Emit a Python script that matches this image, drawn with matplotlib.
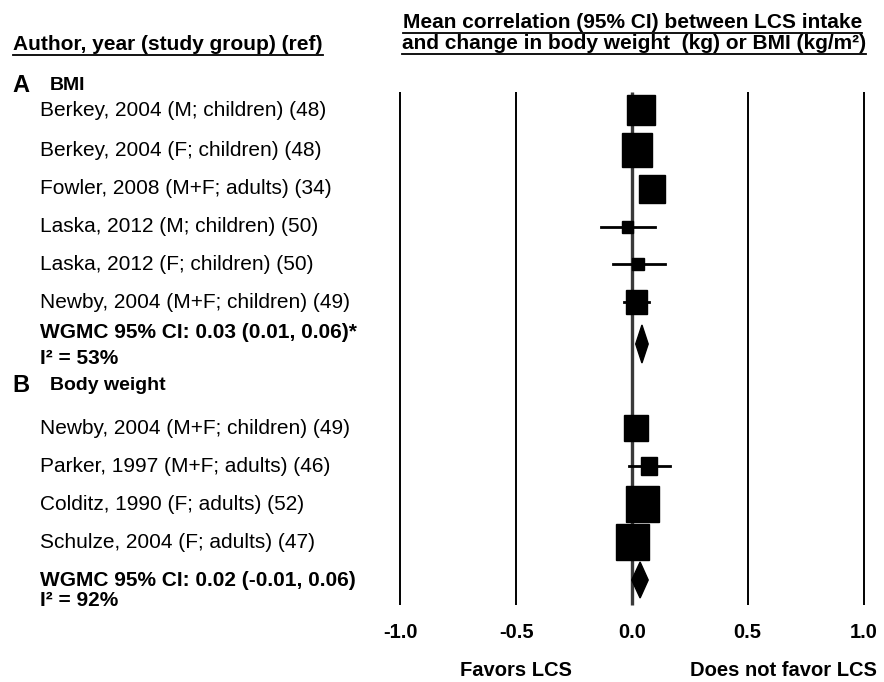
import numpy as np
import matplotlib.pyplot as plt
from matplotlib.patches import Rectangle, Polygon

# data
bmi_labels = ["Berkey, 2004 (M; children) (48)", "Berkey, 2004 (F; children) (48)",
              "Fowler, 2008 (M+F; adults) (34)", "Laska, 2012 (M; children) (50)",
              "Laska, 2012 (F; children) (50)", "Newby, 2004 (M+F; children) (49)"]
bmi_mean = [0.039, 0.020, 0.086, -0.020, 0.026, 0.020]
bmi_lo = [0.030, 0.010, 0.080, -0.135, -0.083, -0.035]
bmi_hi = [0.050, 0.030, 0.095, 0.100, 0.143, 0.073]
bmi_wt = [0.121, 0.130, 0.112, 0.048, 0.048, 0.091]
bmi_pool = (0.043, 0.016, 0.070)
bmi_pool_text = "WGMC 95% CI: 0.03 (0.01, 0.06)*"
bmi_i2 = "I\u00b2 = 53%"

bw_labels = ["Newby, 2004 (M+F; children) (49)", "Parker, 1997 (M+F; adults) (46)",
             "Colditz, 1990 (F; adults) (52)", "Schulze, 2004 (F; adults) (47)"]
bw_mean = [0.017, 0.073, 0.044, 0.003]
bw_lo = [0.010, -0.013, 0.030, -0.010]
bw_hi = [0.025, 0.164, 0.055, 0.015]
bw_wt = [0.104, 0.069, 0.143, 0.143]
bw_pool = (0.035, -0.001, 0.070)
bw_pool_text = "WGMC 95% CI: 0.02 (-0.01, 0.06)"
bw_i2 = "I\u00b2 = 92%"

xticks = [-1.0, -0.5, 0.0, 0.5, 1.0]

# row positions (pixels from top)
bmi_rows = [110, 150, 189, 227, 264, 302]
bw_rows = [428, 466, 504, 542]

plt.rcParams['font.family'] = ['Liberation Sans', 'DejaVu Sans']

fig = plt.figure(figsize=(8.84, 6.82), dpi=100)

# text layer in pixel coords
tx = fig.add_axes([0, 0, 1, 1])
tx.set_xlim(0, 884)
tx.set_ylim(682, 0)
tx.axis('off')

# forest layer
ax = fig.add_axes([400.5 / 884, 0, 463 / 884, 1])
ax.set_xlim(-1, 1)
ax.set_ylim(682, 0)
ax.axis('off')
ax.patch.set_alpha(0)

for xv in xticks:
    if xv == 0:
        ax.vlines(xv, 92, 605, color='#3a3a3a', lw=2.4, zorder=1, clip_on=False)
    else:
        ax.vlines(xv, 92, 605, color='black', lw=1.4, zorder=1, clip_on=False)
    ax.text(xv, 632, f"{xv:.1f}", ha='center', va='center', fontsize=14.5, fontweight='bold')

ax.text(-0.5, 671, "Favors LCS", ha='center', va='center', fontsize=14.5, fontweight='bold')
ax.text(0.652, 671, "Does not favor LCS", ha='center', va='center', fontsize=14.5, fontweight='bold')

px_per_unit = 231.5


def draw_group(rows, mean, lo, hi, wt):
    for y, m, l, h, w in zip(rows, mean, lo, hi, wt):
        ax.plot([l, h], [y, y], color='black', lw=2, zorder=2)
        hgt = w * px_per_unit * 1.1
        ax.add_patch(Rectangle((m - w / 2, y - hgt / 2), w, hgt, color='black', zorder=3))


def draw_diamond(pool, y, hgt):
    m, l, h = pool
    ax.add_patch(Polygon([(l, y), (m, y - hgt / 2), (h, y), (m, y + hgt / 2)],
                         closed=True, color='black', zorder=3))


draw_group(bmi_rows, bmi_mean, bmi_lo, bmi_hi, bmi_wt)
draw_group(bw_rows, bw_mean, bw_lo, bw_hi, bw_wt)
draw_diamond(bmi_pool, 344, 38)
draw_diamond(bw_pool, 580, 36)

# left labels
tx.text(12, 86, "A", fontsize=17, fontweight='bold', va='center')
tx.text(50, 86, "BMI", fontsize=14, fontweight='bold', va='center')
for y, lab in zip(bmi_rows, bmi_labels):
    tx.text(40, y, lab, fontsize=15, va='center')
tx.text(40, 333, bmi_pool_text, fontsize=15, fontweight='bold', va='center')
tx.text(40, 358, bmi_i2, fontsize=15, fontweight='bold', va='center')

tx.text(12, 385, "B", fontsize=17, fontweight='bold', va='center')
tx.text(50, 385, "Body weight", fontsize=14, fontweight='bold', va='center')
for y, lab in zip(bw_rows, bw_labels):
    tx.text(40, y, lab, fontsize=15, va='center')
tx.text(40, 581, bw_pool_text, fontsize=15, fontweight='bold', va='center')
tx.text(40, 600, bw_i2, fontsize=15, fontweight='bold', va='center')

# headers (underlined)
heads = [
    tx.text(13, 50, "Author, year (study group) (ref)", fontsize=15, fontweight='bold',
            va='baseline'),
    tx.text(862, 28, "Mean correlation (95% CI) between LCS intake", fontsize=15,
            fontweight='bold', va='baseline', ha='right'),
    tx.text(866, 49, "and change in body weight  (kg) or BMI (kg/m\u00b2)", fontsize=15,
            fontweight='bold', va='baseline', ha='right'),
]
fig.canvas.draw()
r = fig.canvas.get_renderer()
inv = tx.transData.inverted()
for t in heads:
    bb = t.get_window_extent(renderer=r)
    x0, _ = inv.transform((bb.x0, bb.y0))
    x1, _ = inv.transform((bb.x1, bb.y0))
    yb = t.get_position()[1] + 4.5
    tx.plot([x0, x1], [yb, yb], color='black', lw=1.3)

fig.savefig("out.png", dpi=100)
